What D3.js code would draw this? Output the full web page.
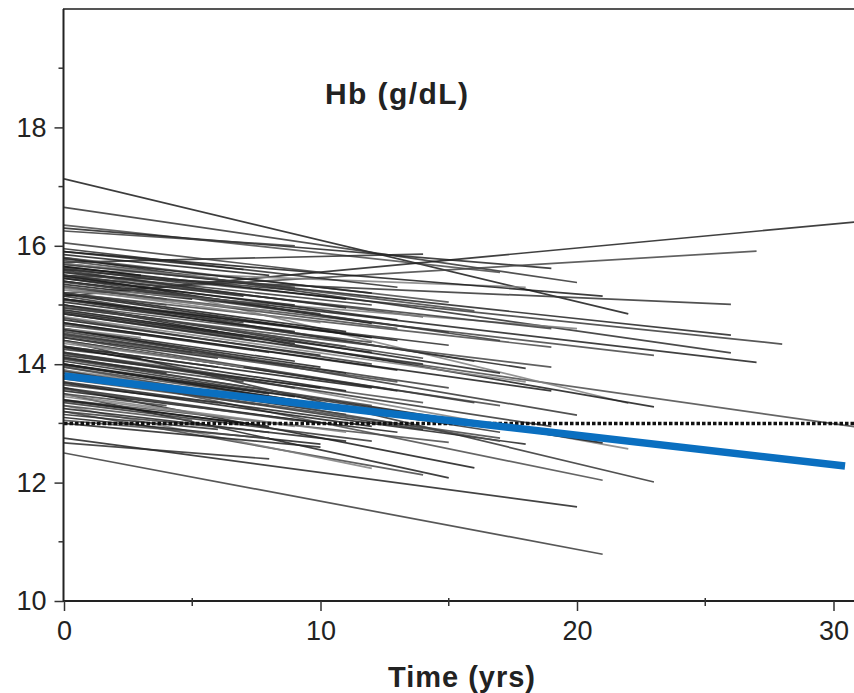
<!DOCTYPE html>
<html>
<head>
<meta charset="utf-8">
<script src="https://cdn.jsdelivr.net/npm/d3@7"></script>
<style>
  html, body { margin: 0; padding: 0; background: #fff; }
  svg { display: block; font-family: "Liberation Sans", Arial, Helvetica, sans-serif; }
</style>
</head>
<body>
<svg id="chart" width="854" height="693"></svg>
<script>
// ---- Data ----
// Individual subject trajectories: Hb at time 0, last follow-up year, Hb at last follow-up
const startHb = [
  17.13, 16.65, 16.35, 16.30, 16.25, 15.72, 15.15, 15.20, 15.60, 15.90,
  15.50, 14.85, 15.70, 15.60, 15.80, 15.40, 15.30, 15.65, 15.00, 14.60,
  15.20, 15.10, 15.40, 15.10, 15.50, 15.00, 14.30, 14.10, 14.40, 13.90,
  12.75, 12.50, 12.67, 13.50, 13.20, 13.30, 13.60, 14.00, 13.40, 13.00,
  16.05, 15.95, 15.85, 15.75, 15.70, 15.65, 15.60, 15.55, 15.50, 15.45,
  15.40, 15.35, 15.30, 15.25, 15.20, 15.15, 15.10, 15.05, 15.00, 14.95,
  14.90, 14.85, 14.80, 14.75, 14.70, 14.65, 14.60, 14.55, 14.50, 14.45,
  14.40, 14.35, 14.30, 14.25, 14.20, 14.15, 14.10, 14.05, 14.00, 13.95,
  13.90, 13.85, 13.80, 13.75, 13.70, 13.65, 13.60, 13.55, 13.50, 13.45,
  13.40, 13.35, 13.30, 13.25, 13.20, 13.15, 13.10, 14.95, 15.30, 14.70,
  15.55, 15.80, 15.00, 14.45, 14.85, 15.45, 15.20, 14.60, 15.65, 14.20,
  13.95, 15.90, 15.50, 14.40, 14.00, 13.80, 14.90, 15.10, 14.30, 13.05,
  15.78, 15.68, 15.58, 15.48, 15.38, 15.28, 15.18, 15.08, 14.98, 14.88,
  14.78, 14.68, 14.58, 14.48, 14.38, 14.28, 14.18, 14.08, 13.98, 13.88,
  13.78, 13.68, 13.58, 13.48, 13.38, 15.62, 15.32, 14.92, 14.52, 14.12
];
const endYear = [
  22, 20, 17, 19, 9, 14, 32, 27, 18, 21,
  26, 32, 26, 28, 26, 27, 23, 22, 23, 20,
  19, 18, 15, 15, 12, 12, 22, 21, 23, 21,
  20, 21, 8, 15, 14, 12, 16, 17, 15, 10,
  10, 13, 8, 16, 6, 11, 9, 14, 7, 17,
  10, 5, 13, 8, 11, 16, 6, 9, 14, 4,
  12, 7, 18, 10, 13, 5, 9, 15, 11, 6,
  17, 8, 12, 3, 14, 10, 7, 16, 9, 12,
  5, 11, 14, 8, 18, 6, 10, 13, 4, 9,
  7, 12, 5, 11, 8, 6, 10, 19, 20, 19,
  12, 15, 17, 16, 14, 9, 4, 3, 3, 19,
  17, 7, 19, 13, 14, 17, 8, 13, 6, 8,
  12, 9, 11, 13, 8, 10, 12, 7, 11, 9,
  12, 8, 10, 13, 7, 11, 9, 12, 8, 10,
  6, 12, 9, 11, 8, 5, 4, 6, 5, 4
];
const endHb = [
  14.85, 15.38, 15.55, 15.62, 16.00, 15.86, 16.45, 15.91, 15.30, 15.15,
  15.01, 12.87, 14.49, 14.34, 14.19, 14.03, 14.15, 13.34, 13.28, 13.14,
  14.29, 13.93, 14.54, 14.32, 14.69, 14.37, 12.57, 12.67, 12.01, 12.04,
  11.59, 10.79, 12.40, 12.08, 12.13, 12.24, 12.25, 12.85, 12.68, 12.60,
  15.55, 15.30, 15.50, 14.90, 15.45, 15.10, 15.25, 14.80, 15.15, 14.40,
  14.85, 15.10, 14.60, 14.90, 14.55, 14.05, 14.80, 14.55, 14.10, 14.75,
  14.20, 14.45, 13.70, 14.15, 13.90, 14.40, 14.05, 13.60, 13.85, 14.10,
  13.30, 13.90, 13.60, 14.10, 13.35, 13.60, 13.70, 13.00, 13.45, 13.20,
  13.60, 13.15, 12.90, 13.30, 12.65, 13.35, 13.00, 12.85, 13.30, 12.95,
  13.00, 12.70, 13.05, 12.70, 12.85, 12.90, 12.65, 13.95, 14.60, 13.55,
  15.00, 15.05, 13.85, 13.35, 14.00, 15.00, 15.00, 14.45, 15.50, 12.95,
  12.70, 15.60, 14.60, 13.55, 13.05, 12.75, 14.40, 14.40, 13.95, 12.75,
  15.20, 15.30, 14.95, 14.75, 15.00, 14.70, 14.45, 14.70, 14.30, 14.35,
  14.00, 14.20, 13.95, 13.70, 13.95, 13.55, 13.60, 13.30, 13.50, 13.25,
  13.45, 12.95, 13.05, 12.85, 12.95, 15.35, 15.10, 14.55, 14.20, 13.85
];
// Population mean trend (blue) and reference level (dotted)
const fitYears = [0, 30.45];
const fitHb = [13.80, 12.28];
const refHb = 13;
// Axes
const xTicks = [0, 10, 20, 30];
const xMinorTicks = [5, 15, 25];
const yTicks = [10, 12, 14, 16, 18];
const yMinorTicks = [11, 13, 15, 17, 19];
const panelLabel = "Hb (g/dL)";
const xTitle = "Time (yrs)";

// ---- Drawing ----
const svg = d3.select("#chart");
const pLeft = 64, pRight = 854, pTop = 9, pBottom = 601;
const x = d3.scaleLinear().domain([0, 30]).range([pLeft, 833.5]);
const y = d3.scaleLinear().domain([10, 20]).range([pBottom, pTop]);

svg.append("defs").append("clipPath").attr("id", "plotclip")
  .append("rect").attr("x", pLeft).attr("y", pTop).attr("width", pRight - pLeft).attr("height", pBottom - pTop);

const plot = svg.append("g").attr("clip-path", "url(#plotclip)");
const line = d3.line().x(d => x(d[0])).y(d => y(d[1]));
const shades = ["#1a1a1a", "#333333", "#4a4a4a", "#222222", "#3a3a3a", "#2b2b2b", "#1f1f1f", "#444444", "#808080"];

const subjects = startHb.map((s, i) => [[0, s], [endYear[i], endHb[i]]]);
plot.selectAll("path.subj").data(subjects).enter().append("path")
  .attr("class", "subj")
  .attr("d", line)
  .attr("fill", "none")
  .attr("stroke", (d, i) => shades[i % shades.length])
  .attr("stroke-opacity", 0.85)
  .attr("stroke-width", 1.7);

// dotted reference line
plot.append("path")
  .attr("d", line([[0, refHb], [31, refHb]]))
  .attr("fill", "none").attr("stroke", "#111")
  .attr("stroke-width", 3.5).attr("stroke-dasharray", "3.5,2");

// blue mean line
plot.append("path")
  .attr("d", line(fitYears.map((t, i) => [t, fitHb[i]])))
  .attr("fill", "none").attr("stroke", "#0a6fc0")
  .attr("stroke-width", 7.5);

// frame top
svg.append("line").attr("x1", pLeft - 1).attr("x2", pRight).attr("y1", pTop).attr("y2", pTop)
  .attr("stroke", "#555").attr("stroke-width", 2);

// y axis
const yAxis = svg.append("g").attr("transform", `translate(${pLeft - 0.5},0)`)
  .call(d3.axisLeft(y).tickValues(yTicks).tickSize(9).tickPadding(8).tickFormat(d3.format("d")));
yAxis.select(".domain").attr("stroke", "#222").attr("stroke-width", 2)
  .attr("d", `M0,${pBottom + 1}V${pTop}`);
yAxis.selectAll(".tick line").attr("stroke", "#333").attr("stroke-width", 1.5);
yAxis.selectAll(".tick text").attr("font-size", 27).attr("fill", "#222")
  .attr("font-family", "'Liberation Sans', Arial, sans-serif");
yAxis.selectAll(".minor").data(yMinorTicks).enter().append("line")
  .attr("class", "minor")
  .attr("x1", -5).attr("x2", 0).attr("y1", d => y(d)).attr("y2", d => y(d))
  .attr("stroke", "#333").attr("stroke-width", 1.5);

// x axis
const xAxis = svg.append("g").attr("transform", `translate(0,${pBottom})`)
  .call(d3.axisBottom(x).tickValues(xTicks).tickSize(10).tickPadding(10).tickFormat(d3.format("d")));
xAxis.select(".domain").attr("stroke", "#222").attr("stroke-width", 2)
  .attr("d", `M${pLeft - 1},0H${pRight}`);
xAxis.selectAll(".tick line").attr("stroke", "#333").attr("stroke-width", 1.5);
xAxis.selectAll(".tick text").attr("font-size", 27).attr("fill", "#222")
  .attr("font-family", "'Liberation Sans', Arial, sans-serif");
xAxis.selectAll(".minor").data(xMinorTicks).enter().append("line")
  .attr("class", "minor")
  .attr("x1", d => x(d)).attr("x2", d => x(d)).attr("y1", -3).attr("y2", 5)
  .attr("stroke", "#333").attr("stroke-width", 1.5);

// panel label
svg.append("text").attr("x", 325).attr("y", 104)
  .attr("font-size", 30).attr("font-weight", "bold").attr("fill", "#222")
  .attr("textLength", 143).attr("lengthAdjust", "spacing")
  .text(panelLabel);

// x title
svg.append("text").attr("x", 388).attr("y", 687)
  .attr("font-size", 29).attr("font-weight", "bold").attr("fill", "#222")
  .attr("textLength", 147).attr("lengthAdjust", "spacing")
  .text(xTitle);
</script>
</body>
</html>
